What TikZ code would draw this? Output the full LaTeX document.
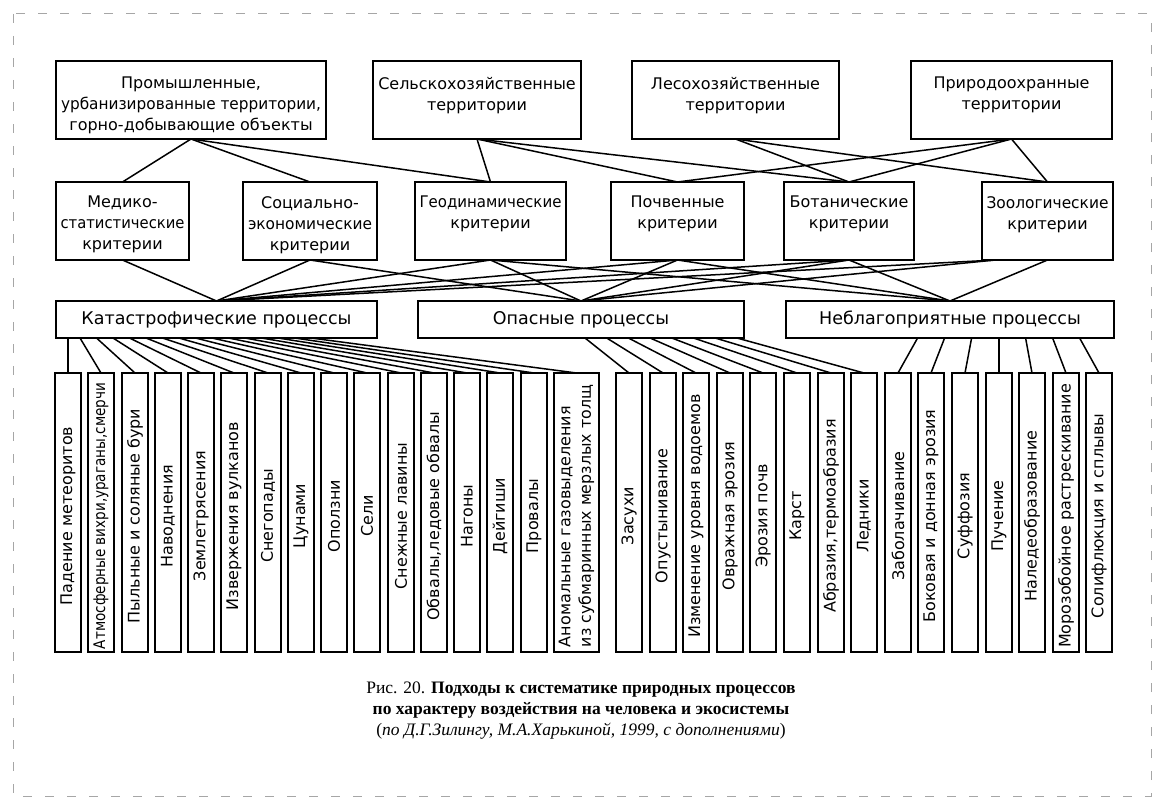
\documentclass[tikz,border=0pt]{standalone}
\usepackage{fontspec}
\usepackage{graphicx}
\setmainfont{DejaVu Sans}
\newfontfamily\capfont{Liberation Serif}
\usetikzlibrary{calc}
\newsavebox\fitbox
\newcommand\fitw[2]{\sbox\fitbox{#2}\ifdim\wd\fitbox>#1\relax\pgfmathsetmacro\fitf{#1/\wd\fitbox}\scalebox{\fitf}[1]{\usebox\fitbox}\else\usebox\fitbox\fi}
\begin{document}
\begin{tikzpicture}[x=1pt,y=-1pt,
 box/.style={draw,line width=2pt,inner sep=0pt,outer sep=0pt},
 txt/.style={align=center,font=\fontsize{16}{21}\selectfont,inner sep=0pt,anchor=north,execute at begin node={\rule{0pt}{14pt}}},
 ptxt/.style={font=\fontsize{17.5}{20}\selectfont,inner sep=0pt},
 vtxt/.style={rotate=90,anchor=center,font=\fontsize{16}{20.5}\selectfont,align=left,inner sep=0pt},
 conn/.style={line width=1.5pt},
 frame/.style={draw=black!35,line width=1pt,dash pattern=on 9pt off 13pt}]
\useasboundingbox (0,0) rectangle (1165,808);
\draw[frame] (13,14) rectangle (1151,796);
% top row
\node[box,minimum width=270pt,minimum height=78pt] (t1) at (191,100) {};
\node[box,minimum width=208pt,minimum height=78pt] (t2) at (477,100) {};
\node[box,minimum width=207pt,minimum height=78pt] (t3) at (735.5,100) {};
\node[box,minimum width=201pt,minimum height=78pt] (t4) at (1011.5,100) {};
\node[txt] (t1x) at ($(t1.north)+(0,16)$) {Промышленные,\\\fitw{260pt}{урбанизированные территории,}\\горно-добывающие объекты};
\node[txt] (t2x) at ($(t2.north)+(0,16)$) {\fitw{200pt}{Сельскохозяйственные}\\территории};
\node[txt] (t3x) at ($(t3.north)+(0,16)$) {\fitw{196pt}{Лесохозяйственные}\\территории};
\node[txt] (t4x) at ($(t4.north)+(0,16)$) {\fitw{190pt}{Природоохранные}\\территории};
% middle row
\node[box,minimum width=133pt,minimum height=78pt] (m1) at (122.5,221) {};
\node[box,minimum width=134pt,minimum height=78pt] (m2) at (310,221) {};
\node[box,minimum width=151pt,minimum height=78pt] (m3) at (490.5,221) {};
\node[box,minimum width=133pt,minimum height=78pt] (m4) at (677.5,221) {};
\node[box,minimum width=130pt,minimum height=78pt] (m5) at (849,221) {};
\node[box,minimum width=131pt,minimum height=78pt] (m6) at (1047.5,221) {};
\node[txt] (m1x) at ($(m1.north)+(0,14)$) {Медико-\\\fitw{124pt}{статистические}\\критерии};
\node[txt] (m2x) at ($(m2.north)+(0,14)$) {Социально-\\\fitw{124pt}{экономические}\\критерии};
\node[txt] (m3x) at ($(m3.north)+(0,14)$) {\fitw{142pt}{Геодинамические}\\критерии};
\node[txt] (m4x) at ($(m4.north)+(0,14)$) {Почвенные\\критерии};
\node[txt] (m5x) at ($(m5.north)+(0,14)$) {\fitw{122pt}{Ботанические}\\критерии};
\node[txt] (m6x) at ($(m6.north)+(0,14)$) {\fitw{122pt}{Зоологические}\\критерии};
% process row
\node[box,minimum width=321pt,minimum height=37pt] (p1) at (216.5,319.5) {};
\node[box,minimum width=326pt,minimum height=37pt] (p2) at (581,319.5) {};
\node[box,minimum width=328pt,minimum height=37pt] (p3) at (950,319.5) {};
\node[ptxt] (p1x) at (p1.center) {Катастрофические процессы};
\node[ptxt] (p2x) at (p2.center) {Опасные процессы};
\node[ptxt] (p3x) at (p3.center) {Неблагоприятные процессы};
% vertical boxes, left group
\foreach \i/\t in {0/{Падение метеоритов},1/{Атмосферные вихри,ураганы,смерчи},2/{Пыльные и соляные бури},3/{Наводнения},4/{Землетрясения},5/{Извержения вулканов},6/{Снегопады},7/{Цунами},8/{Оползни},9/{Сели},10/{Снежные лавины},11/{Обвалы,ледовые обвалы},12/{Нагоны},13/{Дейгиши},14/{Провалы}}{
  \pgfmathsetmacro{\cx}{round(68+33.25*\i)}
  \node[box,minimum width=26pt,minimum height=279pt] (v\i) at (\cx,512.5) {};
  \node[vtxt] (v\i x) at ($(v\i.center)+(0,3.5)$) {\fitw{266pt}{\t}};
}
\node[box,minimum width=45pt,minimum height=279pt] (v15) at (576.5,512.5) {};
\node[vtxt] (v15x) at ($(v15.center)+(0,3.5)$) {\fitw{262pt}{Аномальные газовыделения}\\\fitw{262pt}{из субмаринных мерзлых толщ}};
% right group
\foreach \j/\t in {0/{Засухи},1/{Опустынивание},2/{Изменение уровня водоемов},3/{Овражная эрозия},4/{Эрозия почв},5/{Карст},6/{Абразия,термоабразия},7/{Ледники},8/{Заболачивание},9/{Боковая и донная эрозия},10/{Суффозия},11/{Пучение},12/{Наледеобразование},13/{Морозобойное растрескивание},14/{Солифлюкция и сплывы}}{
  \pgfmathtruncatemacro{\k}{16+\j}
  \pgfmathsetmacro{\cx}{round(629+33.6*\j)}
  \node[box,minimum width=26pt,minimum height=279pt] (v\k) at (\cx,512.5) {};
  \node[vtxt] (v\k x) at ($(v\k.center)+(0,3.5)$) {\fitw{266pt}{\t}};
}
% top -> middle
\draw[conn] (t1.south) -- (m1.north);
\draw[conn] (t1.south) -- (m2.north);
\draw[conn] (t1.south) -- (m3.north);
\draw[conn] (t2.south) -- (m3.north);
\draw[conn] (t2.south) -- (m4.north);
\draw[conn] (t2.south) -- (m5.north);
\draw[conn] (t3.south) -- (m5.north);
\draw[conn] (t3.south) -- (m6.north);
\draw[conn] (t4.south) -- (m4.north);
\draw[conn] (t4.south) -- (m5.north);
\draw[conn] (t4.south) -- (m6.north);
% middle -> process
\draw[conn] (m1.south) -- (p1.north);
\draw[conn] (m2.south) -- (p1.north);
\draw[conn] (m2.south) -- (p2.north);
\foreach \m in {m3,m4,m5}{
  \draw[conn] (\m.south) -- (p1.north);
  \draw[conn] (\m.south) -- (p2.north);
  \draw[conn] (\m.south) -- (p3.north);
}
\draw[conn] ([xshift=-52pt]m6.south) -- (p1.north);
\draw[conn] ([xshift=-52pt]m6.south) -- (p2.north);
\draw[conn] (m6.south) -- (p3.north);
% process -> vertical boxes
\draw[conn] (v0.north) -- (v0.north |- p1.south);
\foreach \i in {1,...,15}{
  \draw[conn] ([xshift={24pt+16.5pt*(\i-1)}]p1.south west) -- (v\i.north);
}
\foreach \j in {0,...,7}{
  \pgfmathtruncatemacro{\k}{16+\j}
  \draw[conn] ([xshift={4pt+21.7pt*\j}]p2.south) -- (v\k.north);
}
\foreach \j in {8,9,10,12,13,14}{
  \pgfmathtruncatemacro{\k}{16+\j}
  \draw[conn] ([xshift={48.6pt+27pt*(\j-11)}]p3.south) -- (v\k.north);
}
\draw[conn] (v27.north) -- (v27.north |- p3.south);
% caption
\node[align=center,inner sep=0pt,font=\capfont\fontsize{17.5}{21}\selectfont] (cap) at (581,711)
 {Рис. 20. \textbf{Подходы к систематике природных процессов}\\
  \textbf{по характеру воздействия на человека и экосистемы}\\
  (\textit{по Д.Г.Зилингу, М.А.Харькиной, 1999, с дополнениями})};
\end{tikzpicture}
\end{document}
